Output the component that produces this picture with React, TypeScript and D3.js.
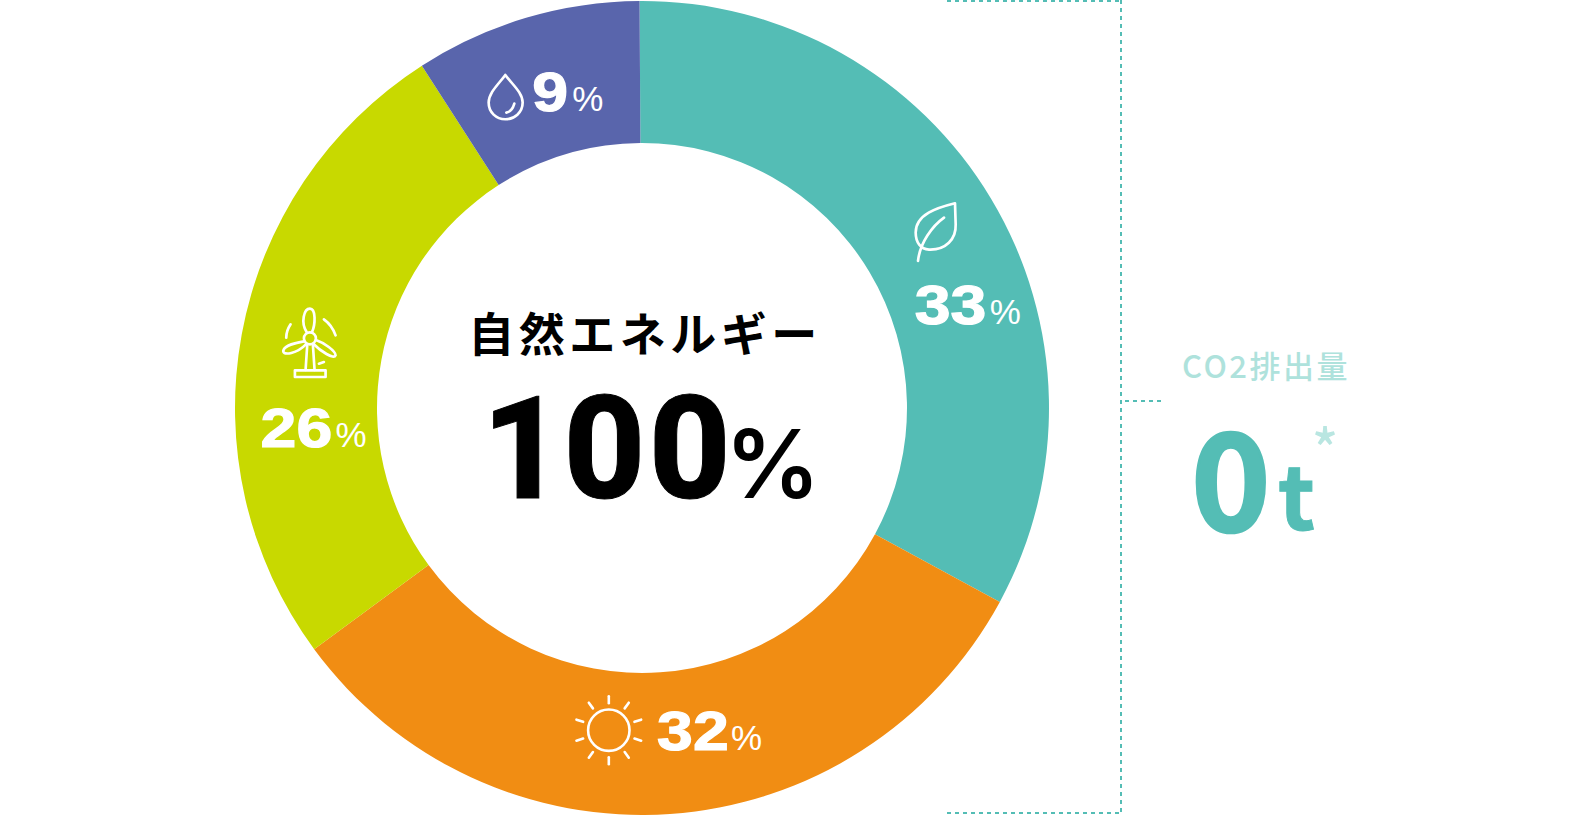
import React from 'react';
import * as d3 from 'd3';

const sources = ['biomass', 'solar', 'wind', 'hydro'];
const shares = [33, 32, 26, 9];
const colors = ['#54bdb5', '#f18d13', '#c8d900', '#5965ac'];

const width = 1584;
const height = 816;
const cx = 642;
const cy = 408;
const outerR = 407;
const innerR = 265;
const rotation = -0.006; // the ring sits a hair counter-clockwise

const latin = '"Liberation Sans", Arial, sans-serif';
const jp = '"Noto Sans CJK JP", sans-serif';

// offset of each label block from its slice centroid, then text spots inside the block
const blocks: any = {
    biomass: { dx: -39.5, dy: -46, numX: 24, numY: 135, pctX: 99, pctY: 135 },
    solar: { dx: -104, dy: -63, numX: 96, numY: 70, pctX: 170, pctY: 70 },
    wind: { dx: -61, dy: -51, numX: 10, numY: 151, pctX: 85, pctY: 151 },
    hydro: { dx: -86, dy: -35, numX: 72, numY: 60, pctX: 112, pctY: 60 },
};

// icons are traced at 3x, so they get scaled down by a third
const Icon: React.FC<{ name: string }> = ({ name }) => {
    const common = { fill: 'none', stroke: '#fff', strokeWidth: 8, strokeLinecap: 'round' as const, strokeLinejoin: 'round' as const };
    if (name === 'biomass') {
        return (
            <g transform="scale(0.3333)" {...common}>
                <path d="M193,42 C140,55 75,75 75,130 C75,160 90,180 115,181 C165,183 197,150 195,105 Z" />
                <path d="M160,85 C125,110 88,160 82,215" />
            </g>
        );
    }
    if (name === 'wind') {
        return (
            <g transform="scale(0.3333)" {...common}>
                <circle cx={178} cy={127} r={18} />
                <path d="M168,108 C150,80 160,38 178,38 C196,38 195,85 184,109" />
                <path d="M160,136 C135,140 100,150 98,165 C98,180 140,172 166,145" />
                <path d="M196,132 C220,140 255,165 255,178 C250,192 210,165 188,143" />
                <path d="M170,147 L165,222 M187,147 L192,222" />
                <rect x={133} y={223} width={92} height={20} />
                <path d="M120,85 C112,97 107,110 107,125" />
                <path d="M220,70 C237,82 248,98 255,118" />
                <path d="M205,203 L220,198" />
            </g>
        );
    }
    return (
        <g transform="scale(0.3333)" {...common}>
            <path d="M135,72 C115,100 85,125 85,155 C85,185 108,205 135,205 C162,205 187,185 187,155 C187,125 155,100 135,72 Z" />
            <path d="M162,158 C158,172 150,183 138,185" />
        </g>
    );
};

const Sun: React.FC = () => {
    const rays = d3.range(10).map(i => (i * 36 * Math.PI) / 180);
    return (
        <g transform="translate(47.7,50)" fill="none" stroke="#fff" strokeWidth={2.6} strokeLinecap="round">
            <circle r={20.7} />
            {rays.map((a, i) => (
                <line key={i} x1={27 * Math.sin(a)} y1={-27 * Math.cos(a)} x2={34 * Math.sin(a)} y2={-34 * Math.cos(a)} />
            ))}
        </g>
    );
};

const App: React.FC = () => {
    const pie = d3.pie<number>().sort(null).value(d => d).startAngle(rotation).endAngle(2 * Math.PI + rotation);
    const arc = d3.arc<d3.PieArcDatum<number>>().innerRadius(innerR).outerRadius(outerR);
    const slices = pie(shares);

    return (
        <svg width={width} height={height} style={{ position: 'absolute', left: 0, top: 0 }}>
            <g transform={`translate(${cx},${cy})`}>
                {slices.map((s, i) => (
                    <path key={sources[i]} d={arc(s) as string} fill={colors[i]} />
                ))}
            </g>

            {slices.map((s, i) => {
                const [mx, my] = arc.centroid(s);
                const b = blocks[sources[i]];
                return (
                    <g key={sources[i]} transform={`translate(${cx + mx + b.dx},${cy + my + b.dy})`}>
                        {sources[i] === 'solar' ? <Sun /> : <Icon name={sources[i]} />}
                        <text
                            transform={`translate(${b.numX},${b.numY}) scale(1.15,1)`}
                            fontFamily={latin}
                            fontWeight={700}
                            fontSize={56}
                            fill="#fff"
                            stroke="#fff"
                            strokeWidth={1.2}
                        >
                            {shares[i]}
                        </text>
                        <text x={b.pctX} y={b.pctY} fontFamily={latin} fontSize={35} fill="#fff">
                            %
                        </text>
                    </g>
                );
            })}

            <text x={cx + 3} y={351} textAnchor="middle" fontFamily={jp} fontWeight={700} fontSize={46} letterSpacing={4.5} fill="#000">
                自然エネルギー
            </text>
            <text x={482} y={498} dx="0 -4 0" fontFamily="Roboto, sans-serif" fontWeight={800} fontSize={142} letterSpacing={3.5} fill="#000" stroke="#000" strokeWidth={1}>
                100
            </text>
            <text x={725} y={498} fontFamily="Inter, sans-serif" fontWeight={600} fontSize={95} fill="#000">
                %
            </text>

            <g fill="none" stroke="#54bdb5" strokeWidth={2} strokeDasharray="4 4">
                <path d="M947,1 H1121" />
                <path d="M947,813 H1121" />
                <path d="M1121,0 V814" />
                <path d="M1125,401 H1162" />
            </g>

            <text x={1182} y={378} fontFamily={jp} fontWeight={500} fontSize={31} letterSpacing={2.5} fill="#aee2dc">
                CO2排出量
            </text>
            <text x={1191} y={531} fontFamily={jp} fontWeight={700} fontSize={135} fill="#54bdb5" stroke="#54bdb5" strokeWidth={2.5}>
                0
            </text>
            <text x={1278} y={530} fontFamily={jp} fontWeight={700} fontSize={88} fill="#54bdb5" stroke="#54bdb5" strokeWidth={1}>
                t
            </text>
            <text x={1312} y={469} fontFamily={jp} fontWeight={500} fontSize={54} fill="#b9e6e1">
                *
            </text>
        </svg>
    );
};

export default App;
